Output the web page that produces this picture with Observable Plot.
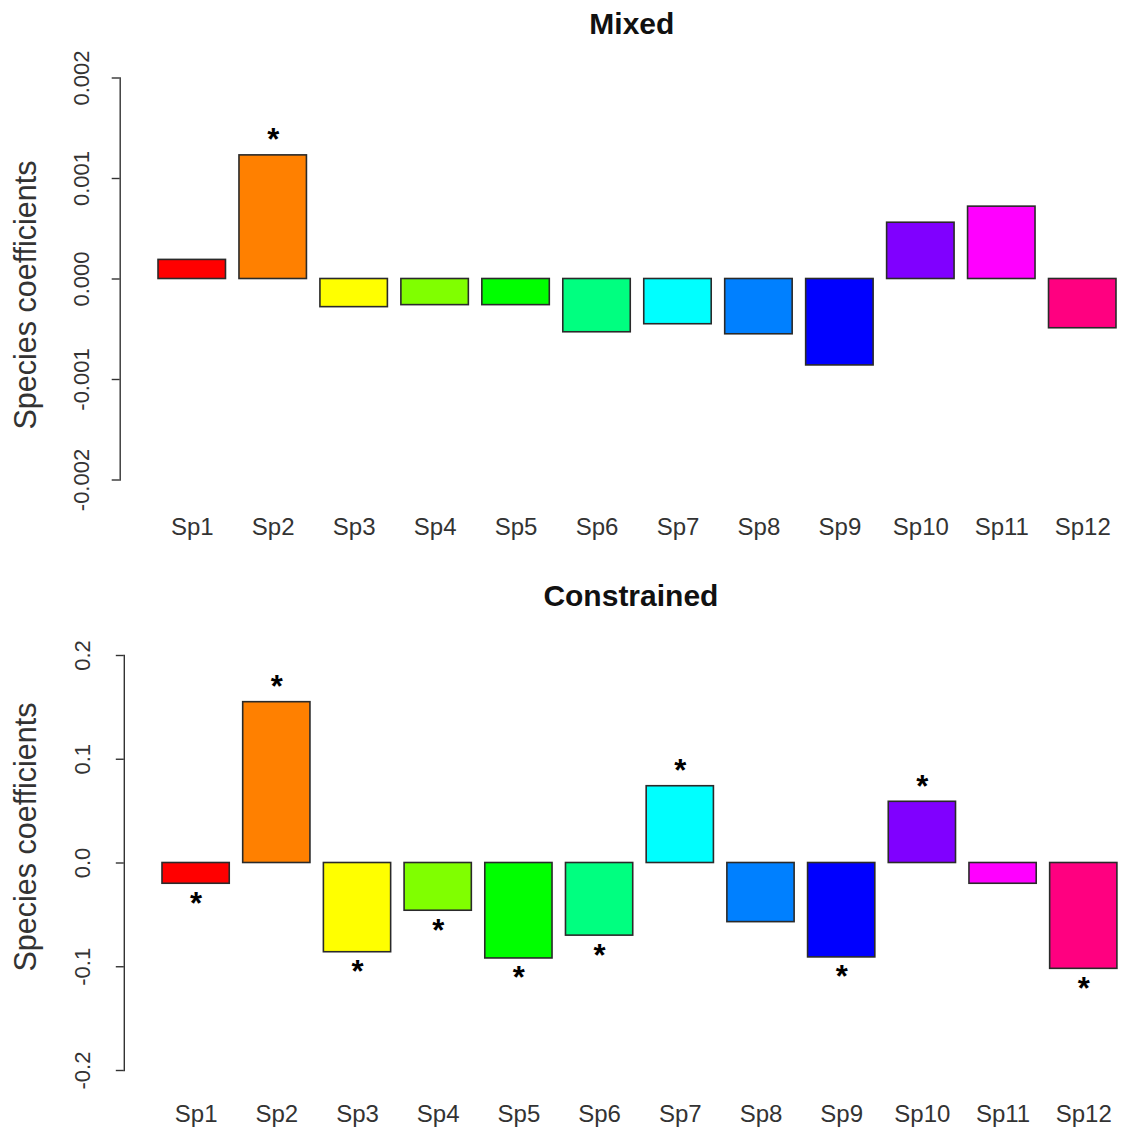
<!DOCTYPE html>
<html>
<head>
<meta charset="utf-8">
<script src="https://cdn.jsdelivr.net/npm/d3@7"></script>
<script src="https://cdn.jsdelivr.net/npm/@observablehq/plot@0.6"></script>
<style>
  html, body { margin: 0; padding: 0; background: #fff; }
  #chart svg { display: block; }
</style>
</head>
<body>
<div id="chart"></div>
<script>
const species = ["Sp1","Sp2","Sp3","Sp4","Sp5","Sp6","Sp7","Sp8","Sp9","Sp10","Sp11","Sp12"];
const barColors = ["#FF0000","#FF8000","#FFFF00","#80FF00","#00FF00","#00FF80","#00FFFF","#0080FF","#0000FF","#8000FF","#FF00FF","#FF0080"];

const mixedValues = [0.00019, 0.00123, -0.00028, -0.00026, -0.00026, -0.00053, -0.00045, -0.00055, -0.00086, 0.00056, 0.00072, -0.00049];
const mixedSig = [false, true, false, false, false, false, false, false, false, false, false, false];
const mixedTicks = [-0.002, -0.001, 0, 0.001, 0.002];
const mixedTickLabels = ["-0.002", "-0.001", "0.000", "0.001", "0.002"];

const constrainedValues = [-0.020, 0.155, -0.086, -0.046, -0.092, -0.070, 0.074, -0.057, -0.091, 0.059, -0.020, -0.102];
const constrainedSig = [true, true, true, true, true, true, true, false, true, true, false, true];
const constrainedTicks = [-0.2, -0.1, 0, 0.1, 0.2];
const constrainedTickLabels = ["-0.2", "-0.1", "0.0", "0.1", "0.2"];

const yLabel = "Species coefficients";
const FONT = "Liberation Sans, Arial, Helvetica, sans-serif";

function panel({title, values, sig, ticks, tickLabels, height, marginTop, marginBottom, left, right,
                titleDy, titleDx, yLabelDx, yLabelDy, tickDx, xLabelDy}) {
  const data = species.map((s, i) => ({sp: s, v: values[i], color: barColors[i], sig: sig[i]}));
  const tickData = ticks.map((t, i) => ({t, label: tickLabels[i]}));
  return Plot.plot({
    width: 1125,
    height,
    marginTop,
    marginBottom,
    marginLeft: left,
    marginRight: 0,
    style: {fontFamily: FONT, background: "white"},
    x: {domain: species, range: [left, right], round: false, paddingInner: 0.2 / 1.2, paddingOuter: 0.568 / 1.2, axis: null},
    y: {domain: [ticks[0], ticks[ticks.length - 1]], axis: null},
    marks: [
      Plot.frame({anchor: "left", stroke: "#333", strokeWidth: 1.4}),
      Plot.axisY({ticks, tickSize: 8, tickFormat: () => "", stroke: "#333", strokeWidth: 1.4, label: null}),
      Plot.text(tickData, {y: "t", text: "label", frameAnchor: "left", rotate: -90, dx: tickDx,
        lineAnchor: "middle", textAnchor: "middle", fontSize: 22, fill: "#333"}),
      Plot.text([yLabel], {frameAnchor: "left", rotate: -90, dx: yLabelDx, dy: yLabelDy,
        lineAnchor: "middle", textAnchor: "middle", fontSize: 30.5, fill: "#333"}),
      Plot.text([title], {frameAnchor: "top", dx: titleDx, dy: titleDy, lineAnchor: "middle",
        fontSize: 30, fontWeight: "bold", fill: "#111"}),
      Plot.barY(data, {x: "sp", y1: 0, y2: "v", fill: "color", stroke: "#2a2a2a", strokeWidth: 1.6}),
      Plot.text(data.filter(d => d.sig && d.v > 0), {x: "sp", y: "v", text: () => "*", dy: -15,
        lineAnchor: "middle", fontSize: 31, fontWeight: "bold", fill: "#000"}),
      Plot.text(data.filter(d => d.sig && d.v < 0), {x: "sp", y: "v", text: () => "*", dy: 20,
        lineAnchor: "middle", fontSize: 31, fontWeight: "bold", fill: "#000"}),
      Plot.text(species, {x: d => d, frameAnchor: "bottom", dy: xLabelDy, lineAnchor: "middle",
        fontSize: 24, fill: "#333"})
    ]
  });
}

const mixedPanel = panel({
  title: "Mixed", values: mixedValues, sig: mixedSig, ticks: mixedTicks, tickLabels: mixedTickLabels,
  height: 566, marginTop: 77.5, marginBottom: 86.5, left: 119.7, right: 1154.3,
  titleDx: 9, titleDy: -53.5, yLabelDx: -94, yLabelDy: 16, tickDx: -38, xLabelDy: 47.5
});
const constrainedPanel = panel({
  title: "Constrained", values: constrainedValues, sig: constrainedSig, ticks: constrainedTicks, tickLabels: constrainedTickLabels,
  height: 567, marginTop: 89, marginBottom: 63, left: 123.8, right: 1155.1,
  titleDx: 6, titleDy: -59, yLabelDx: -98, yLabelDy: -26, tickDx: -41, xLabelDy: 44
});
document.getElementById("chart").append(mixedPanel, constrainedPanel);
</script>
</body>
</html>
